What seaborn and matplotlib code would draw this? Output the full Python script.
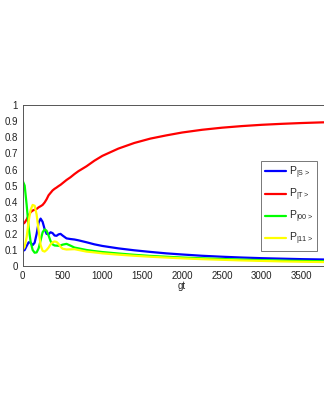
import numpy as np
import pandas as pd
import matplotlib
matplotlib.use('Agg')
import matplotlib.pyplot as plt
import seaborn as sns

# --- dane ---
gt = [0, 25, 50, 75, 100, 125, 150, 175, 200, 225, 250, 275, 300, 325, 350, 375,
      400, 425, 450, 475, 500, 550, 600, 650, 700, 800, 900, 1000, 1200, 1400,
      1600, 1800, 2000, 2250, 2500, 2750, 3000, 3250, 3500, 3750, 4000]

p_S = [0.093, 0.10, 0.125, 0.148, 0.145, 0.13, 0.145, 0.20, 0.27, 0.295, 0.275,
       0.23, 0.20, 0.198, 0.21, 0.205, 0.19, 0.188, 0.197, 0.20, 0.19, 0.172,
       0.168, 0.165, 0.16, 0.148, 0.135, 0.125, 0.11, 0.098, 0.088, 0.079, 0.072,
       0.064, 0.058, 0.053, 0.049, 0.046, 0.043, 0.041, 0.039]

p_T = [0.26, 0.27, 0.29, 0.315, 0.335, 0.345, 0.35, 0.355, 0.365, 0.372, 0.38,
       0.395, 0.415, 0.44, 0.455, 0.47, 0.48, 0.488, 0.497, 0.505, 0.515, 0.535,
       0.552, 0.572, 0.59, 0.62, 0.655, 0.685, 0.73, 0.765, 0.792, 0.812, 0.83,
       0.847, 0.86, 0.87, 0.878, 0.884, 0.889, 0.893, 0.896]

p_00 = [0.53, 0.50, 0.38, 0.24, 0.15, 0.10, 0.083, 0.085, 0.11, 0.16, 0.21,
        0.228, 0.22, 0.19, 0.155, 0.135, 0.128, 0.127, 0.126, 0.128, 0.133, 0.138,
        0.127, 0.115, 0.11, 0.10, 0.093, 0.087, 0.078, 0.07, 0.063, 0.058, 0.053,
        0.048, 0.044, 0.04, 0.037, 0.034, 0.032, 0.03, 0.028]

p_11 = [0.10, 0.12, 0.18, 0.28, 0.35, 0.38, 0.375, 0.32, 0.22, 0.13, 0.095,
        0.09, 0.10, 0.115, 0.135, 0.148, 0.153, 0.15, 0.138, 0.12, 0.108, 0.103,
        0.104, 0.105, 0.10, 0.09, 0.085, 0.079, 0.071, 0.064, 0.058, 0.053, 0.048,
        0.043, 0.039, 0.035, 0.032, 0.029, 0.027, 0.025, 0.024]

labels = [r'P$_{|S>}$', r'P$_{|T>}$', r'P$_{|00>}$', r'P$_{|11>}$']
colors = ['#0000ff', '#ff0000', '#00ff00', '#ffff00']
x_ticks = ['0', '500', '1000', '1500', '2000', '2500', '3000', '3500']
y_ticks = ['0', '0.1', '0.2', '0.3', '0.4', '0.5', '0.6', '0.7', '0.8', '0.9', '1']

sns.set_style('white')
plt.rcParams['font.family'] = ['Liberation Sans', 'DejaVu Sans']
plt.rcParams['mathtext.default'] = 'regular'

fig = plt.figure(figsize=(3.24, 4.19), dpi=100)
# oś wychodzi poza prawą krawędź obrazka, tak jak w oryginale
ax = fig.add_axes([0.070, 0.365, 0.984, 0.384])

for vals, lab, col in zip([p_S, p_T, p_00, p_11], labels, colors):
    sns.lineplot(x=gt, y=vals, ax=ax, color=col, label=lab, linewidth=1.6)

ax.set_xlim(0, 4000)
ax.set_ylim(0, 1)
ax.set_xticks(np.arange(0, 3501, 500))
ax.set_xticklabels(x_ticks)
ax.set_yticks(np.arange(0, 1.01, 0.1))
ax.set_yticklabels(y_ticks)
ax.tick_params(direction='out', length=2.5, width=0.6, labelsize=7, pad=1,
               colors='#333333', labelcolor='#222222')
for s in ax.spines.values():
    s.set_color('#555555')
    s.set_linewidth(0.7)
ax.set_xlabel('gt', fontsize=7, labelpad=0)
ax.set_ylabel('')

leg = ax.legend(loc='upper right', bbox_to_anchor=(0.978, 0.616),
                bbox_transform=fig.transFigure, fontsize=7.5, frameon=True,
                fancybox=False, handlelength=2.0, handletextpad=0.3,
                labelspacing=0.55, borderpad=0.35, borderaxespad=0)
leg.get_frame().set_edgecolor('#555555')
leg.get_frame().set_linewidth(0.7)

plt.savefig('out.png', dpi=100)
plt.close()
